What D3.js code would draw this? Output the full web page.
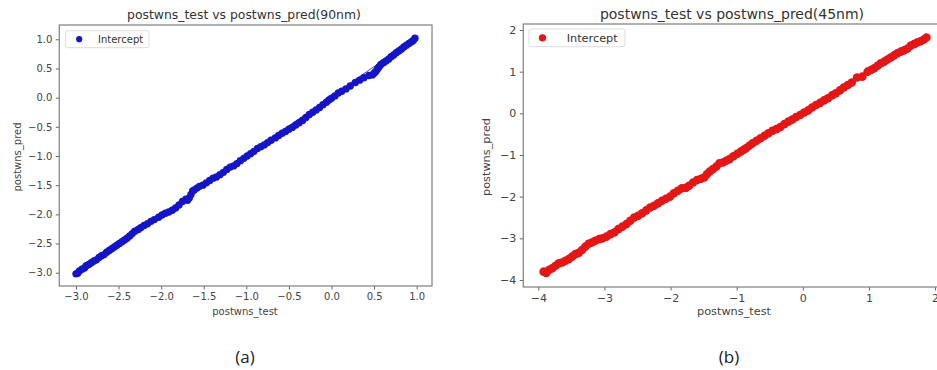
<!DOCTYPE html>
<html>
<head>
<meta charset="utf-8">
<script src="https://cdn.jsdelivr.net/npm/d3@7"></script>
<style>
  body { margin: 0; background: #fff; }
  svg { display: block; font-family: "DejaVu Sans", sans-serif; }
</style>
</head>
<body>
<svg id="chart" width="937" height="370"></svg>
<script>
// 90nm panel values
var test90 = [-3.00,-2.98,-2.96,-2.93,-2.90,-2.88,-2.85,-2.82,-2.79,-2.76,
  -2.73,-2.70,-2.67,-2.64,-2.61,-2.58,-2.55,-2.52,-2.49,-2.46,
  -2.43,-2.40,-2.37,-2.34,-2.31,-2.27,-2.24,-2.20,-2.16,-2.12,
  -2.08,-2.03,-1.99,-1.95,-1.91,-1.87,-1.83,-1.79,-1.75,-1.71,
  -1.69,-1.67,-1.65,-1.63,-1.61,-1.58,-1.55,-1.51,-1.47,-1.43,
  -1.39,-1.35,-1.31,-1.27,-1.23,-1.19,-1.15,-1.11,-1.07,-1.03,
  -0.99,-0.95,-0.91,-0.87,-0.83,-0.79,-0.75,-0.71,-0.66,-0.62,
  -0.58,-0.54,-0.50,-0.46,-0.42,-0.38,-0.34,-0.30,-0.26,-0.22,
  -0.18,-0.14,-0.10,-0.06,-0.03,0.00,0.04,0.08,0.12,0.17,
  0.22,0.28,0.33,0.38,0.44,0.48,0.50,0.52,0.54,0.56,
  0.58,0.61,0.64,0.67,0.70,0.73,0.76,0.79,0.82,0.85,
  0.88,0.91,0.94,0.96,0.98];
var pred90 = [-3.02,-3.01,-2.97,-2.94,-2.92,-2.88,-2.86,-2.83,-2.80,-2.78,
  -2.74,-2.71,-2.69,-2.65,-2.62,-2.59,-2.56,-2.53,-2.50,-2.47,
  -2.44,-2.41,-2.37,-2.33,-2.29,-2.26,-2.23,-2.19,-2.16,-2.12,
  -2.09,-2.05,-2.01,-1.98,-1.96,-1.93,-1.89,-1.84,-1.78,-1.74,
  -1.76,-1.72,-1.66,-1.60,-1.58,-1.55,-1.52,-1.50,-1.46,-1.42,
  -1.38,-1.36,-1.32,-1.28,-1.23,-1.19,-1.17,-1.13,-1.08,-1.04,
  -1.00,-0.96,-0.92,-0.87,-0.84,-0.81,-0.77,-0.73,-0.69,-0.65,
  -0.61,-0.58,-0.54,-0.51,-0.47,-0.43,-0.39,-0.34,-0.29,-0.25,
  -0.21,-0.17,-0.12,-0.08,-0.04,-0.01,0.03,0.08,0.11,0.15,
  0.20,0.26,0.30,0.34,0.38,0.39,0.42,0.45,0.49,0.53,
  0.57,0.60,0.63,0.66,0.70,0.73,0.77,0.80,0.83,0.87,
  0.90,0.93,0.96,0.98,1.02];
var ticks90 = [-3.0,-2.5,-2.0,-1.5,-1.0,-0.5,0.0,0.5,1.0];

// 45nm panel values
var test45 = [-3.92,-3.88,-3.84,-3.79,-3.74,-3.69,-3.64,-3.59,-3.54,-3.49,
  -3.44,-3.39,-3.34,-3.29,-3.24,-3.19,-3.14,-3.08,-3.03,-2.97,
  -2.91,-2.85,-2.79,-2.73,-2.67,-2.61,-2.55,-2.49,-2.43,-2.37,
  -2.31,-2.25,-2.19,-2.13,-2.07,-2.01,-1.95,-1.89,-1.83,-1.77,
  -1.72,-1.66,-1.60,-1.54,-1.49,-1.45,-1.41,-1.36,-1.31,-1.26,
  -1.21,-1.16,-1.11,-1.05,-0.99,-0.94,-0.90,-0.86,-0.81,-0.76,
  -0.70,-0.64,-0.58,-0.52,-0.46,-0.40,-0.34,-0.28,-0.22,-0.16,
  -0.10,-0.04,0.02,0.08,0.14,0.20,0.26,0.32,0.38,0.44,
  0.50,0.56,0.62,0.68,0.74,0.82,0.90,0.98,1.03,1.08,
  1.13,1.18,1.23,1.28,1.33,1.38,1.43,1.48,1.53,1.58,
  1.63,1.68,1.73,1.78,1.83,1.87];
var pred45 = [-3.80,-3.83,-3.76,-3.72,-3.66,-3.60,-3.58,-3.54,-3.50,-3.44,
  -3.38,-3.35,-3.28,-3.20,-3.13,-3.10,-3.06,-3.02,-3.00,-2.96,
  -2.90,-2.86,-2.78,-2.72,-2.66,-2.58,-2.50,-2.46,-2.40,-2.33,
  -2.26,-2.22,-2.16,-2.10,-2.05,-2.00,-1.92,-1.86,-1.80,-1.79,
  -1.74,-1.66,-1.60,-1.57,-1.54,-1.46,-1.40,-1.34,-1.28,-1.20,
  -1.18,-1.14,-1.10,-1.03,-0.97,-0.92,-0.88,-0.84,-0.78,-0.72,
  -0.66,-0.60,-0.54,-0.48,-0.42,-0.38,-0.33,-0.26,-0.20,-0.15,
  -0.09,-0.04,0.02,0.07,0.14,0.20,0.25,0.31,0.36,0.43,
  0.48,0.55,0.62,0.68,0.74,0.86,0.88,1.00,1.04,1.08,
  1.14,1.20,1.24,1.29,1.34,1.39,1.44,1.48,1.51,1.55,
  1.62,1.66,1.70,1.73,1.77,1.82];
var ticks45 = [-4,-3,-2,-1,0,1,2];

var svg = d3.select("#chart");

function drawPanel(p) {
  var x = d3.scaleLinear().domain(p.xDomain).range([p.left, p.right]);
  var y = d3.scaleLinear().domain(p.yDomain).range([p.top, p.bottom]);
  var g = svg.append("g");

  // scatter
  var pts = p.xs.map(function(v, i) { return [v, p.ys[i]]; });
  g.append("path")
    .datum([pts[0], pts[pts.length - 1]])
    .attr("fill", "none")
    .attr("stroke", p.lineColor)
    .attr("stroke-width", 0.8)
    .attr("d", d3.line().x(function(d) { return x(d[0]); }).y(function(d) { return y(d[1]); }));
  g.selectAll(".dot")
    .data(pts)
  .enter().append("circle")
    .attr("class", "dot")
    .attr("cx", function(d) { return x(d[0]); })
    .attr("cy", function(d) { return y(d[1]); })
    .attr("r", p.r)
    .attr("fill", p.color);

  // axes
  var xa = g.append("g")
    .attr("transform", "translate(0," + p.bottom + ")")
    .call(d3.axisBottom(x).tickValues(p.ticks).tickFormat(d3.format(p.fmt)).tickSize(3.5).tickPadding(3.5));
  var ya = g.append("g")
    .attr("transform", "translate(" + p.left + ",0)")
    .call(d3.axisLeft(y).tickValues(p.ticks).tickFormat(d3.format(p.fmt)).tickSize(3.5).tickPadding(3.5));
  [xa, ya].forEach(function(a) {
    a.select(".domain").remove();
    a.selectAll("line").attr("stroke", "#666");
    a.selectAll("text").attr("fill", "#444").style("font-size", p.tickFont + "px").style("font-family", "DejaVu Sans");
  });

  g.append("rect")
    .attr("x", p.left).attr("y", p.top)
    .attr("width", p.right - p.left).attr("height", p.bottom - p.top)
    .attr("fill", "none").attr("stroke", "#888").attr("stroke-width", 1.3);

  g.append("text")
    .attr("x", p.titleX).attr("y", 19)
    .attr("text-anchor", "middle")
    .style("font-size", p.titleFont + "px").attr("fill", "#333")
    .text(p.title);
  g.append("text")
    .attr("x", p.xLabelX).attr("y", 315)
    .attr("text-anchor", "middle")
    .style("font-size", p.labelFont + "px").attr("fill", "#444")
    .text("postwns_test");
  g.append("text")
    .attr("transform", "translate(" + p.yLabelX + ",157) rotate(-90)")
    .attr("text-anchor", "middle")
    .style("font-size", p.labelFont + "px").attr("fill", "#444")
    .text("postwns_pred");

  // legend
  var lg = p.legend;
  g.append("rect")
    .attr("x", lg[0]).attr("y", lg[1]).attr("width", lg[2]).attr("height", lg[3])
    .attr("rx", 2).attr("fill", "#fff").attr("stroke", "#ddd").attr("stroke-width", 1);
  g.append("circle")
    .attr("cx", lg[0] + 13.5).attr("cy", lg[1] + lg[3] / 2).attr("r", p.r - 0.6)
    .attr("fill", p.color);
  g.append("text")
    .attr("x", lg[4]).attr("y", lg[1] + lg[3] / 2 + p.labelFont * 0.35)
    .style("font-size", p.labelFont + "px").attr("fill", "#333")
    .text("Intercept");

  svg.append("text")
    .attr("x", p.captionX).attr("y", 363)
    .attr("text-anchor", "middle")
    .style("font-family", "'Open Sans', sans-serif").style("font-size", "17px").attr("fill", "#222")
    .text(p.caption);
}

drawPanel({
  xs: test90, ys: pred90, ticks: ticks90, fmt: ".1f",
  xDomain: [-3.196, 1.18], yDomain: [1.245, -3.228],
  left: 59.3, right: 432, top: 25, bottom: 286,
  color: "#1414c8", lineColor: "#1a1a8a", r: 3.7,
  tickFont: 10, labelFont: 10, titleFont: 12.4,
  title: "postwns_test vs postwns_pred(90nm)", titleX: 244,
  xLabelX: 245, yLabelX: 21,
  legend: [65.7, 30.7, 83.3, 17, 98],
  caption: "(a)", captionX: 245
});

drawPanel({
  xs: test45, ys: pred45, ticks: ticks45, fmt: "d",
  xDomain: [-4.227, 2.09], yDomain: [2.144, -4.168],
  left: 523.3, right: 941, top: 24, bottom: 287,
  color: "#e41616", lineColor: "#7a2a2a", r: 4.3,
  tickFont: 11, labelFont: 11.3, titleFont: 14,
  title: "postwns_test vs postwns_pred(45nm)", titleX: 732,
  xLabelX: 734, yLabelX: 490,
  legend: [529, 29, 96, 17.7, 566.7],
  caption: "(b)", captionX: 729
});
</script>
</body>
</html>
